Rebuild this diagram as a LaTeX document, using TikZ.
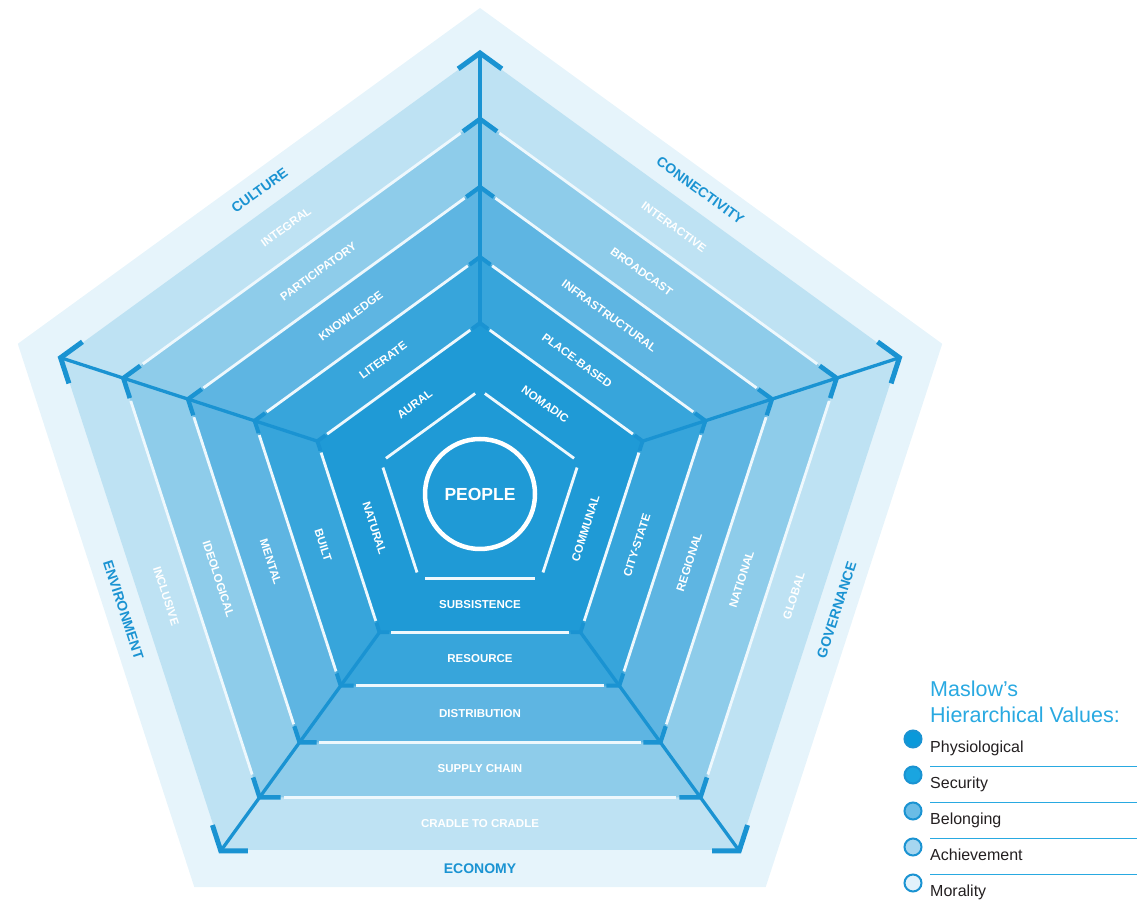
\documentclass[tikz,border=0pt]{standalone}
\usepackage{fontspec}
\setmainfont{Liberation Sans}
\usepackage{tikz}
\usetikzlibrary{calc}
\usepackage{xcolor}
\definecolor{sfondo}{HTML}{E6F4FB}
\definecolor{anellocinque}{HTML}{BEE2F3}
\definecolor{anelloquattro}{HTML}{8ECCEA}
\definecolor{anellotre}{HTML}{5EB5E2}
\definecolor{anellodue}{HTML}{37A5DB}
\definecolor{anellouno}{HTML}{1F9AD6}
\definecolor{blu}{HTML}{1A93D2}
\definecolor{bluchiaro}{HTML}{29A9E1}
\definecolor{lineabianca}{HTML}{EEF8FD}
\definecolor{nero}{HTML}{231F20}
\newcommand{\pentagono}[2]{
\fill[#1] (90:#2) -- (162:#2) -- (234:#2) -- (306:#2) -- (18:#2) -- cycle;
}

\begin{document}
\begin{tikzpicture}[x=1pt, y=1pt,
    bianca/.style = {draw=lineabianca, line width=2.8pt},
    asse/.style = {draw=blu, line width=3.3pt},
    punta/.style = {draw=blu, line join=miter},
    etichetta/.style = {text=white, inner sep=0pt, font=\bfseries\fontsize{11.5}{12}\selectfont},
    settore/.style = {text=blu, inner sep=0pt, font=\bfseries\fontsize{14}{15}\selectfont},
    voce/.style = {text=nero, inner sep=0pt, anchor=base west, font=\fontsize{16}{18}\selectfont},
    pallino/.style = {draw=blu, line width=2pt}]
    \useasboundingbox (0,0) rectangle (1137,907);
    \begin{scope}[shift={(480,413)}]
    % Anelli (dall'esterno)
    \pentagono{sfondo}{486}
    \pentagono{anellocinque}{440}
    \pentagono{anelloquattro}{375}
    \pentagono{anellotre}{307}
    \pentagono{anellodue}{237}
    \pentagono{anellouno}{171}
    % Linee bianche sui bordi
    \foreach \raggio/\scarto in {104/6, 171/12, 237/15, 307/19, 375/24} {
        \foreach \a in {90,162,234,306,18} {
            \draw[bianca] ($(\a:\raggio)!\scarto pt!({\a+72}:\raggio)$) -- ($({\a+72}:\raggio)!\scarto pt!(\a:\raggio)$);
        }
    }
    % Assi
    \foreach \a in {90,162,234,306,18} {
        \draw[asse] (\a:171) -- (\a:441);
    }
    % Punte sui vertici
    \foreach \raggio/\braccio/\spessore in {171/10/3.8, 237/13/4, 307/17/4.3, 375/21/4.6, 441/27/5} {
        \foreach \a in {90,162,234,306,18} {
            \draw[punta, line width=\spessore pt] ($(\a:\raggio)!\braccio pt!({\a+72}:\raggio)$) -- (\a:\raggio) -- ($(\a:\raggio)!\braccio pt!({\a-72}:\raggio)$);
        }
    }
    % Centro
    \draw[white, line width=4.5pt] (0,0) circle (55);
    \node[text=white, inner sep=0pt, font=\bfseries\fontsize{17.5}{18}\selectfont] (people) at (0,0) {PEOPLE};
    % Primo anello
    \node[etichetta, rotate=36] (aural) at (126:111) {AURAL};
    \node[etichetta, rotate=-36] (nomadic) at (54:111) {NOMADIC};
    \node[etichetta, rotate=72] (communal) at (-18:111) {COMMUNAL};
    \node[etichetta] (subsistence) at (-90:111) {SUBSISTENCE};
    \node[etichetta, rotate=-72] (natural) at (198:111) {NATURAL};
    % Secondo anello
    \node[etichetta, rotate=36] (literate) at (126:165) {LITERATE};
    \node[etichetta, rotate=-36] (placebased) at (54:165) {PLACE-BASED};
    \node[etichetta, rotate=72] (citystate) at (-18:165) {CITY-STATE};
    \node[etichetta] (resource) at (-90:165) {RESOURCE};
    \node[etichetta, rotate=-72] (built) at (198:165) {BUILT};
    % Terzo anello
    \node[etichetta, rotate=36] (knowledge) at (126:220) {KNOWLEDGE};
    \node[etichetta, rotate=-36] (infrastructural) at (54:220) {INFRASTRUCTURAL};
    \node[etichetta, rotate=72] (regional) at (-18:220) {REGIONAL};
    \node[etichetta] (distribution) at (-90:220) {DISTRIBUTION};
    \node[etichetta, rotate=-72] (mental) at (198:220) {MENTAL};
    % Quarto anello
    \node[etichetta, rotate=36] (participatory) at (126:275) {PARTICIPATORY};
    \node[etichetta, rotate=-36] (broadcast) at (54:275) {BROADCAST};
    \node[etichetta, rotate=72] (national) at (-18:275) {NATIONAL};
    \node[etichetta] (supplychain) at (-90:275) {SUPPLY CHAIN};
    \node[etichetta, rotate=-72] (ideological) at (198:275) {IDEOLOGICAL};
    % Quinto anello
    \node[etichetta, rotate=36] (integral) at (126:330) {INTEGRAL};
    \node[etichetta, rotate=-36] (interactive) at (54:330) {INTERACTIVE};
    \node[etichetta, rotate=72] (global) at (-18:330) {GLOBAL};
    \node[etichetta] (cradle) at (-90:330) {CRADLE TO CRADLE};
    \node[etichetta, rotate=-72] (inclusive) at (198:330) {INCLUSIVE};
    % Settori
    \node[settore, rotate=36] (culture) at (126:375) {CULTURE};
    \node[settore, rotate=-36] (connectivity) at (54:375) {CONNECTIVITY};
    \node[settore, rotate=72] (governance) at (-18:375) {GOVERNANCE};
    \node[settore] (economy) at (-90:375) {ECONOMY};
    \node[settore, rotate=-72] (environment) at (198:375) {ENVIRONMENT};
    \end{scope}
    % Legenda
    \node[text=bluchiaro, inner sep=0pt, anchor=base west, font=\fontsize{21.5}{24}\selectfont] (titolouno) at (930,210) {Maslow’s};
    \node[text=bluchiaro, inner sep=0pt, anchor=base west, font=\fontsize{21.5}{24}\selectfont] (titolodue) at (930,184) {Hierarchical Values:};
    \draw[pallino, fill={rgb,255:red,10;green,153;blue,218}] (913,168) circle (8.5);
    \node[voce] (physiological) at (930,154) {Physiological};
    \draw[bluchiaro, line width=1pt] (930,140) -- (1137,140);
    \draw[pallino, fill={rgb,255:red,26;green,165;blue,224}] (913,132) circle (8.5);
    \node[voce] (security) at (930,118) {Security};
    \draw[bluchiaro, line width=1pt] (930,104) -- (1137,104);
    \draw[pallino, fill={rgb,255:red,106;green,188;blue,230}] (913,96) circle (8.5);
    \node[voce] (belonging) at (930,82) {Belonging};
    \draw[bluchiaro, line width=1pt] (930,68) -- (1137,68);
    \draw[pallino, fill={rgb,255:red,166;green,214;blue,240}] (913,60) circle (8.5);
    \node[voce] (achievement) at (930,46) {Achievement};
    \draw[bluchiaro, line width=1pt] (930,32) -- (1137,32);
    \draw[pallino, fill={rgb,255:red,226;green,242;blue,251}] (913,24) circle (8.5);
    \node[voce] (morality) at (930,10) {Morality};
\end{tikzpicture}
\end{document}
